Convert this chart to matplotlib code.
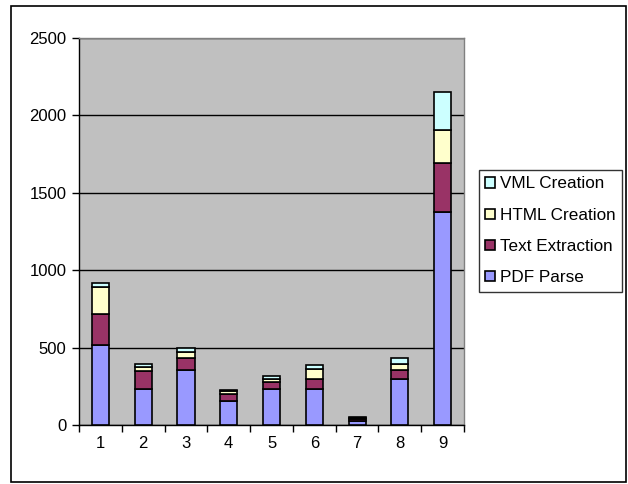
import matplotlib.pyplot as plt
from matplotlib.patches import Rectangle

plt.rcParams['font.family'] = ['Liberation Sans', 'DejaVu Sans']

runs = ['1', '2', '3', '4', '5', '6', '7', '8', '9']
pdf_parse = [520, 234, 355, 157, 234, 234, 30, 299, 1377]
text_extraction = [197, 115, 78, 45, 44, 65, 10, 56, 311]
html_creation = [172, 30, 40, 17, 21, 67, 8, 39, 213]
vml_creation = [30, 17, 26, 7, 19, 22, 6, 41, 246]

series = [
    ('PDF Parse', pdf_parse, '#9999FF'),
    ('Text Extraction', text_extraction, '#993366'),
    ('HTML Creation', html_creation, '#FFFFCC'),
    ('VML Creation', vml_creation, '#CCFFFF'),
]

fig = plt.figure(figsize=(6.28, 4.84), dpi=100)
ax = fig.add_axes([0.1258, 0.1213, 0.6131, 0.8012])
ax.set_facecolor('#C0C0C0')

x = list(range(len(runs)))
bottom = [0] * len(runs)
handles = []
for name, vals, color in series:
    h = ax.bar(x, vals, width=0.4, bottom=bottom, color=color,
               edgecolor='black', linewidth=1.2, label=name, zorder=3)
    handles.append(h)
    bottom = [b + v for b, v in zip(bottom, vals)]

ax.set_xlim(-0.5, len(runs) - 0.5)
ax.set_ylim(0, 2500)
ax.set_yticks(range(0, 2501, 500))
ax.yaxis.grid(True, color='black', linewidth=1)
ax.set_axisbelow(True)

# category labels in the middle, tick marks between categories
ax.set_xticks(x)
ax.set_xticklabels(runs)
ax.set_xticks([i - 0.5 for i in range(len(runs) + 1)], minor=True)
ax.tick_params(axis='x', which='major', length=0, pad=8, labelsize=12)
ax.tick_params(axis='x', which='minor', length=5, width=1, direction='out')
ax.tick_params(axis='y', length=5, width=1, direction='out', pad=4, labelsize=12)

for side in ['top', 'right']:
    ax.spines[side].set_color('#808080')
    ax.spines[side].set_linewidth(1)
for side in ['left', 'bottom']:
    ax.spines[side].set_color('black')
    ax.spines[side].set_linewidth(1)

leg = fig.legend(handles[::-1], [s[0] for s in series][::-1],
                 loc='upper left', bbox_to_anchor=(0.7627, 0.6488),
                 fontsize=12.3, frameon=True, fancybox=False,
                 edgecolor='black', handlelength=0.55, handleheight=0.55,
                 handletextpad=0.3, labelspacing=0.95, borderpad=0.38,
                 borderaxespad=0)
leg.get_frame().set_linewidth(1)

# outer chart border
fig.patches.append(Rectangle((0.0175, 0.004), 0.9793, 0.9836,
                             transform=fig.transFigure, fill=False,
                             edgecolor='black', linewidth=1.2))

fig.savefig('out.png', dpi=100)
